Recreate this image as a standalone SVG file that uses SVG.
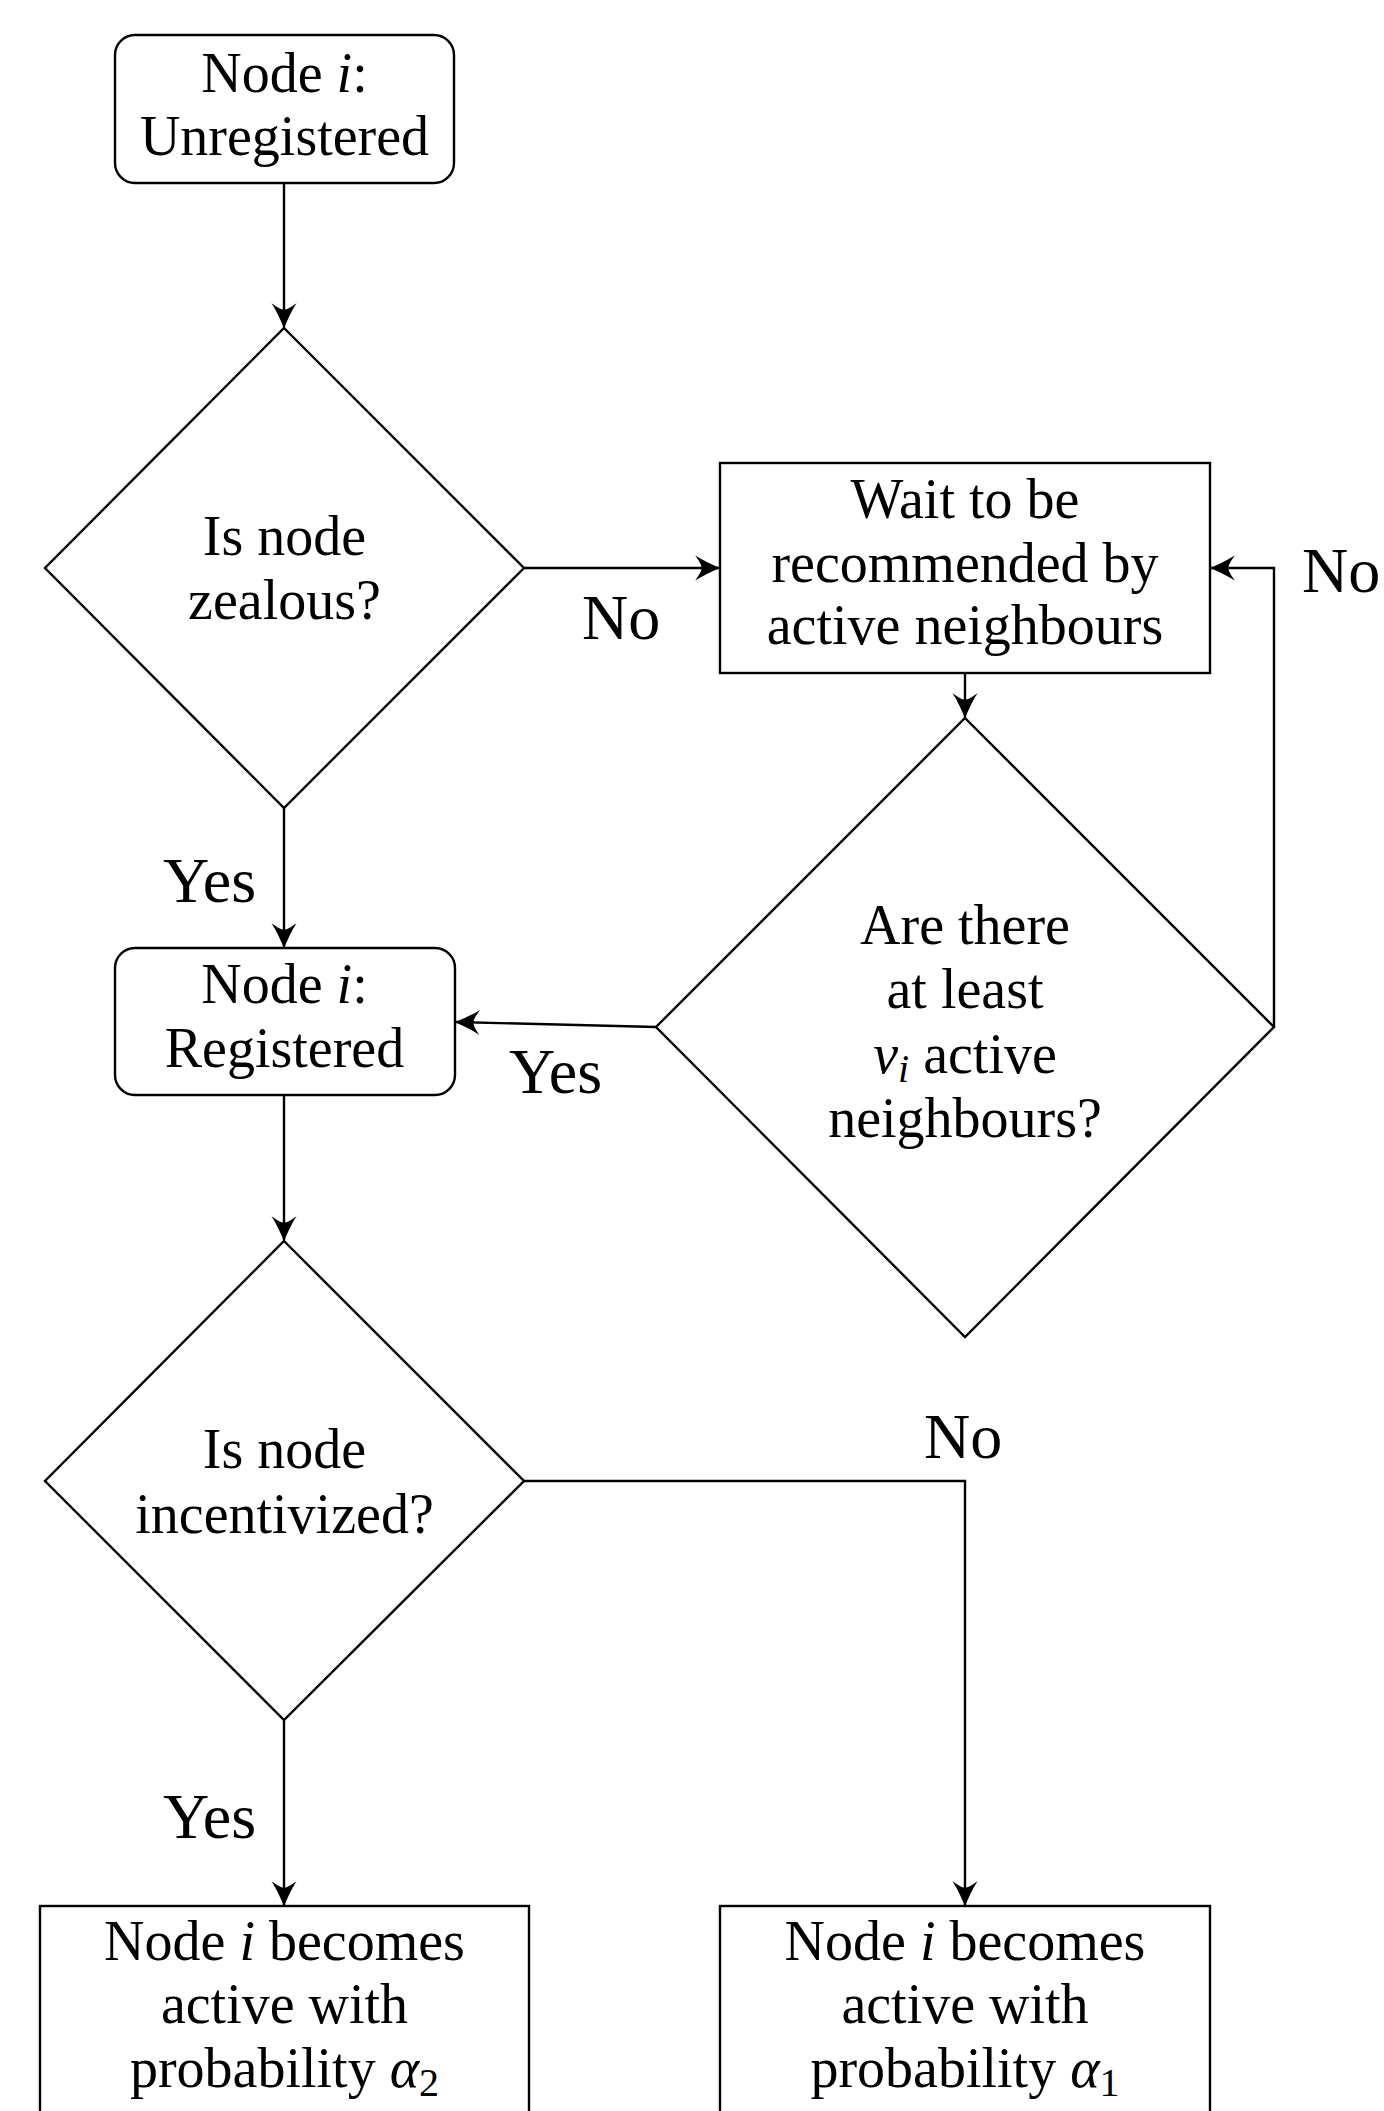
<svg xmlns="http://www.w3.org/2000/svg" width="1384" height="2111" viewBox="0 0 1384 2111">
<style>
.shape{fill:#fff;stroke:#000;stroke-width:2.4}
.t{font-family:"Liberation Serif","Times New Roman",serif;font-size:56px;fill:#000;text-anchor:middle}
.lbl{font-family:"Liberation Serif","Times New Roman",serif;font-size:64px;fill:#000}
.it{font-style:italic}
.edge{fill:none;stroke:#000;stroke-width:2.4;marker-end:url(#arr)}
</style>
<defs>
<marker id="arr" markerUnits="userSpaceOnUse" markerWidth="30" markerHeight="30" viewBox="-22 -12 24 24" refX="0" refY="0" orient="auto">
<path d="M1,0 C-5,-2.5 -13,-6 -19,-10 C-15.5,-5 -14,-2.5 -14,0 C-14,2.5 -15.5,5 -19,10 C-13,6 -5,2.5 1,0 Z" fill="#000"/>
</marker>
</defs>
<rect width="1384" height="2111" fill="#fff"/>

<g id="connectors">
<path class="edge" d="M284,183 L284,327"/>
<path class="edge" d="M524,568 L719,568"/>
<path class="edge" d="M284,808 L284,947"/>
<path class="edge" d="M965,673 L965,717"/>
<path class="edge" d="M656,1027 L456,1022"/>
<path class="edge" d="M1274,1027 L1274,568 L1211,568"/>
<path class="edge" d="M284,1095 L284,1240"/>
<path class="edge" d="M284,1720 L284,1905"/>
<path class="edge" d="M524,1481 L965,1481 L965,1905"/>
</g>

<g id="labels">
<text class="lbl" x="582" y="639">No</text>
<text class="lbl" x="1302" y="592">No</text>
<text class="lbl" x="163" y="902">Yes</text>
<text class="lbl" x="509" y="1093">Yes</text>
<text class="lbl" x="924" y="1458">No</text>
<text class="lbl" x="163" y="1838">Yes</text>
</g>

<g id="node-unregistered">
<rect class="shape" x="115" y="35" width="339" height="148" rx="20"/>
<text class="t" x="284.5" y="92">Node <tspan class="it">i</tspan>:</text>
<text class="t" x="284.5" y="155">Unregistered</text>
</g>

<g id="node-zealous">
<polygon class="shape" points="284,328 524,568 284,808 45,568"/>
<text class="t" x="284.5" y="555">Is node</text>
<text class="t" x="284.5" y="619">zealous?</text>
</g>

<g id="node-wait">
<rect class="shape" x="720" y="463" width="490" height="210"/>
<text class="t" x="965" y="518">Wait to be</text>
<text class="t" x="965" y="582">recommended by</text>
<text class="t" x="965" y="644">active neighbours</text>
</g>

<g id="node-threshold">
<polygon class="shape" points="965,718 1274,1027 965,1337 656,1027"/>
<text class="t" x="965" y="944">Are there</text>
<text class="t" x="965" y="1008">at least</text>
<text class="t" x="965" y="1073"><tspan class="it">v</tspan><tspan class="it" font-size="40" dy="9">i</tspan><tspan dy="-9"> active</tspan></text>
<text class="t" x="965" y="1137">neighbours?</text>
</g>

<g id="node-registered">
<rect class="shape" x="115" y="948" width="340" height="147" rx="20"/>
<text class="t" x="284.5" y="1003">Node <tspan class="it">i</tspan>:</text>
<text class="t" x="284.5" y="1067">Registered</text>
</g>

<g id="node-incentivized">
<polygon class="shape" points="284,1241 524,1481 284,1720 45,1481"/>
<text class="t" x="284.5" y="1468">Is node</text>
<text class="t" x="284.5" y="1533">incentivized?</text>
</g>

<g id="node-active-a2">
<rect class="shape" x="40" y="1906" width="489" height="240"/>
<text class="t" x="284.5" y="1960">Node <tspan class="it">i</tspan> becomes</text>
<text class="t" x="284.5" y="2023">active with</text>
<text class="t" x="284.5" y="2087">probability <tspan class="it">α</tspan><tspan font-size="40" dy="9">2</tspan></text>
</g>

<g id="node-active-a1">
<rect class="shape" x="720" y="1906" width="490" height="240"/>
<text class="t" x="965" y="1960">Node <tspan class="it">i</tspan> becomes</text>
<text class="t" x="965" y="2023">active with</text>
<text class="t" x="965" y="2087">probability <tspan class="it">α</tspan><tspan font-size="40" dy="9">1</tspan></text>
</g>
</svg>
